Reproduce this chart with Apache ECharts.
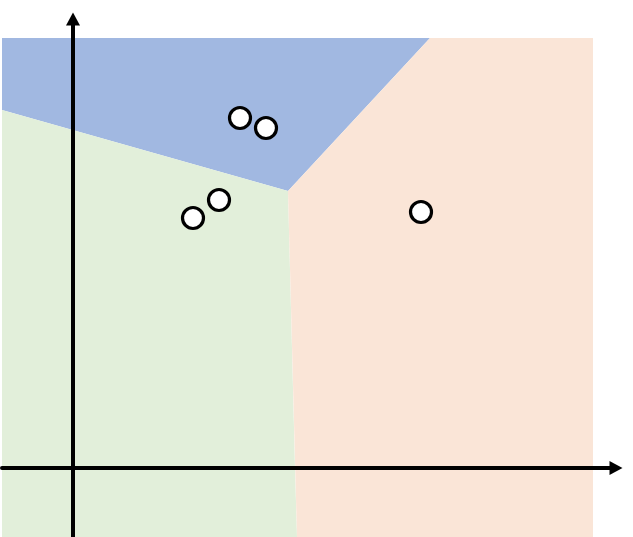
<!DOCTYPE html>
<html>
<head>
<meta charset="utf-8">
<script src="https://cdn.jsdelivr.net/npm/echarts@6/dist/echarts.min.js"></script>
<style>html,body{margin:0;padding:0;background:#fff}#c{width:633px;height:537px}</style>
</head>
<body>
<div id="c"></div>
<script>
// Data (units: arbitrary plane coordinates, origin where the arrows cross)
var points = [[1.67, 3.50], [1.93, 3.40], [1.46, 2.68], [1.20, 2.50], [3.48, 2.56]];
var blueRegion = [[-0.71, 4.30], [3.57, 4.30], [2.15, 2.77], [-0.71, 3.58]];
var greenRegion = [[-0.71, 3.58], [2.15, 2.77], [2.22, 0], [2.24, -0.69], [-0.71, -0.69]];
var orangeRegion = [[3.57, 4.30], [5.20, 4.30], [5.20, -0.69], [2.24, -0.69], [2.15, 2.77]];
var regionColors = ['#a1b8e1', '#e2efda', '#fae5d7'];
var xRange = [-0.71, 5.43];
var yRange = [-0.69, 4.49];

var regions = [blueRegion, greenRegion, orangeRegion];

var chart = echarts.init(document.getElementById('c'), null, {renderer: 'canvas'});
chart.setOption({
  animation: false,
  grid: {left: 2, right: 17, top: 19, bottom: 0, containLabel: false},
  xAxis: {
    type: 'value', min: xRange[0], max: xRange[1], z: 5,
    axisLine: {show: true, onZero: true, symbol: ['none', 'triangle'], symbolSize: [14, 13],
      lineStyle: {color: '#000', width: 4}},
    axisTick: {show: false}, axisLabel: {show: false}, splitLine: {show: false}
  },
  yAxis: {
    type: 'value', min: yRange[0], max: yRange[1], z: 5,
    axisLine: {show: true, onZero: true, symbol: ['none', 'triangle'], symbolSize: [14, 13],
      lineStyle: {color: '#000', width: 4}},
    axisTick: {show: false}, axisLabel: {show: false}, splitLine: {show: false}
  },
  series: [
    {
      type: 'custom',
      z: 1,
      data: regions.map(function (r, i) { return [i]; }),
      renderItem: function (params, api) {
        var idx = api.value(0);
        var pts = regions[idx].map(function (p) { return api.coord(p); });
        return {
          type: 'polygon',
          shape: {points: pts},
          style: {fill: regionColors[idx], stroke: null}
        };
      },
      silent: true
    },
    {
      type: 'scatter',
      z: 10,
      data: points,
      symbol: 'circle',
      symbolSize: 21,
      itemStyle: {color: '#fff', borderColor: '#000', borderWidth: 3.2, opacity: 1}
    }
  ]
});
</script>
</body>
</html>
